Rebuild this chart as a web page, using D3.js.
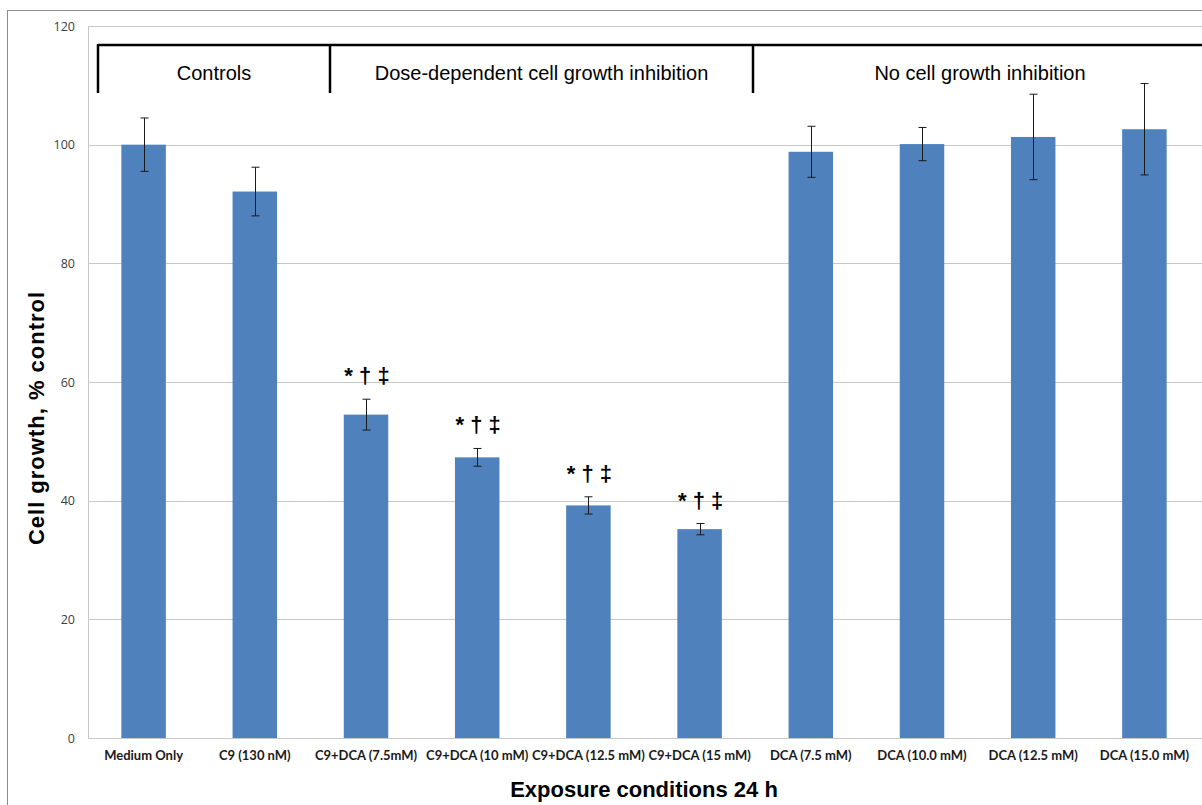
<!DOCTYPE html>
<html>
<head>
<meta charset="utf-8">
<script src="https://cdn.jsdelivr.net/npm/d3@7"></script>
<style>
  html, body { margin: 0; padding: 0; background: #fff; }
  svg { display: block; }
</style>
</head>
<body>
<svg id="chart" width="1202" height="805"></svg>
<script>
// Exposure conditions (24 h) and mean cell growth as % of medium-only control
const categories = [
  "Medium Only", "C9 (130 nM)", "C9+DCA (7.5mM)", "C9+DCA (10 mM)",
  "C9+DCA (12.5 mM)", "C9+DCA (15 mM)", "DCA (7.5 mM)", "DCA (10.0 mM)",
  "DCA (12.5 mM)", "DCA (15.0 mM)"
];
const growth = [100, 92.1, 54.5, 47.3, 39.2, 35.2, 98.8, 100.1, 101.3, 102.6];
const errors = [4.5, 4.1, 2.6, 1.5, 1.45, 0.95, 4.3, 2.8, 7.2, 7.7];
// significance markers per condition ("" = none)
const markers = ["", "", "* † ‡", "* † ‡", "* † ‡", "* † ‡", "", "", "", ""];
const yTicks = [0, 20, 40, 60, 80, 100, 120];

// Grouping brackets along the top of the plot
const groupLabels = ["Controls", "Dose-dependent cell growth inhibition", "No cell growth inhibition"];
const groupEdges = [98, 330, 753, 1207];

const svg = d3.select("#chart");
const plot = { left: 88, right: 1200, top: 26, bottom: 738 };

const x = d3.scaleBand()
  .domain(categories)
  .range([plot.left, plot.right])
  .paddingInner(0.6)
  .paddingOuter(0.3);

const y = d3.scaleLinear().domain([0, 120]).range([plot.bottom, plot.top]);

// outer chart frame
svg.append("rect")
  .attr("x", 7.5).attr("y", 10.5)
  .attr("width", 1250).attr("height", 850)
  .attr("fill", "none").attr("stroke", "#8c8c8c").attr("stroke-width", 1);

// horizontal gridlines
svg.append("g")
  .selectAll("line")
  .data(yTicks)
  .join("line")
  .attr("x1", plot.left).attr("x2", plot.right + 10)
  .attr("y1", d => Math.round(y(d)) + 0.5)
  .attr("y2", d => Math.round(y(d)) + 0.5)
  .attr("stroke", "#c8c8c8").attr("stroke-width", 1);

// left axis line
svg.append("line")
  .attr("x1", plot.left + 0.5).attr("x2", plot.left + 0.5)
  .attr("y1", plot.top).attr("y2", plot.bottom)
  .attr("stroke", "#c8c8c8");

// y tick labels
const yAxis = d3.axisLeft(y).tickValues(yTicks).tickSize(0).tickPadding(13);
const yg = svg.append("g").attr("transform", `translate(${plot.left},0)`).call(yAxis);
yg.select(".domain").remove();
yg.selectAll("text")
  .attr("font-family", "'Open Sans', sans-serif")
  .attr("font-size", 12.5)
  .attr("fill", "#404040");

// bars
svg.append("g")
  .selectAll("rect")
  .data(categories)
  .join("rect")
  .attr("x", d => x(d))
  .attr("width", x.bandwidth())
  .attr("y", (d, i) => y(growth[i]))
  .attr("height", (d, i) => y(0) - y(growth[i]))
  .attr("fill", "#4f81bd");

// error bars
const eb = svg.append("g").attr("stroke", "#1a1a1a").attr("stroke-width", 1);
categories.forEach((c, i) => {
  const cx = Math.round(x(c) + x.bandwidth() / 2) + 0.5;
  const top = y(growth[i] + errors[i]);
  const bot = y(growth[i] - errors[i]);
  eb.append("line").attr("x1", cx).attr("x2", cx).attr("y1", top).attr("y2", bot);
  eb.append("line").attr("x1", cx - 4).attr("x2", cx + 4).attr("y1", top).attr("y2", top);
  eb.append("line").attr("x1", cx - 4).attr("x2", cx + 4).attr("y1", bot).attr("y2", bot);
});

// significance markers
svg.append("g")
  .selectAll("text")
  .data(categories)
  .join("text")
  .attr("x", d => x(d) + x.bandwidth() / 2 + 1)
  .attr("y", (d, i) => y(growth[i] + errors[i]) - 16)
  .attr("text-anchor", "middle")
  .attr("font-family", "'Liberation Sans', Arial, sans-serif")
  .attr("font-size", 22)
  .attr("font-weight", "bold")
  .attr("fill", "#000")
  .text((d, i) => markers[i]);

// x tick labels
const xAxis = d3.axisBottom(x).tickSize(0).tickPadding(13);
const xg = svg.append("g").attr("transform", `translate(0,${plot.bottom})`).call(xAxis);
xg.select(".domain")
  .attr("stroke", "#c8c8c8")
  .attr("d", `M${plot.left},0.5H${plot.right + 10}`);
xg.selectAll("text")
  .attr("font-family", "Lato, 'Open Sans', sans-serif")
  .attr("font-size", 13)
  .attr("font-weight", "bold")
  .attr("fill", "#1a1a1a");

// axis titles
svg.append("text")
  .attr("x", (plot.left + plot.right) / 2)
  .attr("y", 797)
  .attr("text-anchor", "middle")
  .attr("font-family", "'Liberation Sans', Arial, sans-serif")
  .attr("font-size", 22)
  .attr("font-weight", "bold")
  .text("Exposure conditions 24 h");

svg.append("text")
  .attr("transform", "translate(44,418) rotate(-90)")
  .attr("text-anchor", "middle")
  .attr("font-family", "'Liberation Sans', Arial, sans-serif")
  .attr("font-size", 22)
  .attr("font-weight", "bold")
  .attr("letter-spacing", 1)
  .text("Cell growth, % control");

// group brackets
const br = svg.append("g").attr("stroke", "#000").attr("stroke-width", 2.5).attr("fill", "none");
br.append("line")
  .attr("x1", groupEdges[0]).attr("x2", groupEdges[groupEdges.length - 1])
  .attr("y1", 45).attr("y2", 45);
groupEdges.slice(0, 3).forEach(e => {
  br.append("line").attr("x1", e).attr("x2", e).attr("y1", 44).attr("y2", 93);
});
svg.append("g")
  .selectAll("text")
  .data(groupLabels)
  .join("text")
  .attr("x", (d, i) => (groupEdges[i] + groupEdges[i + 1]) / 2)
  .attr("y", 80)
  .attr("text-anchor", "middle")
  .attr("font-family", "'Liberation Sans', Arial, sans-serif")
  .attr("font-size", 20)
  .attr("fill", "#000")
  .text(d => d);
</script>
</body>
</html>
